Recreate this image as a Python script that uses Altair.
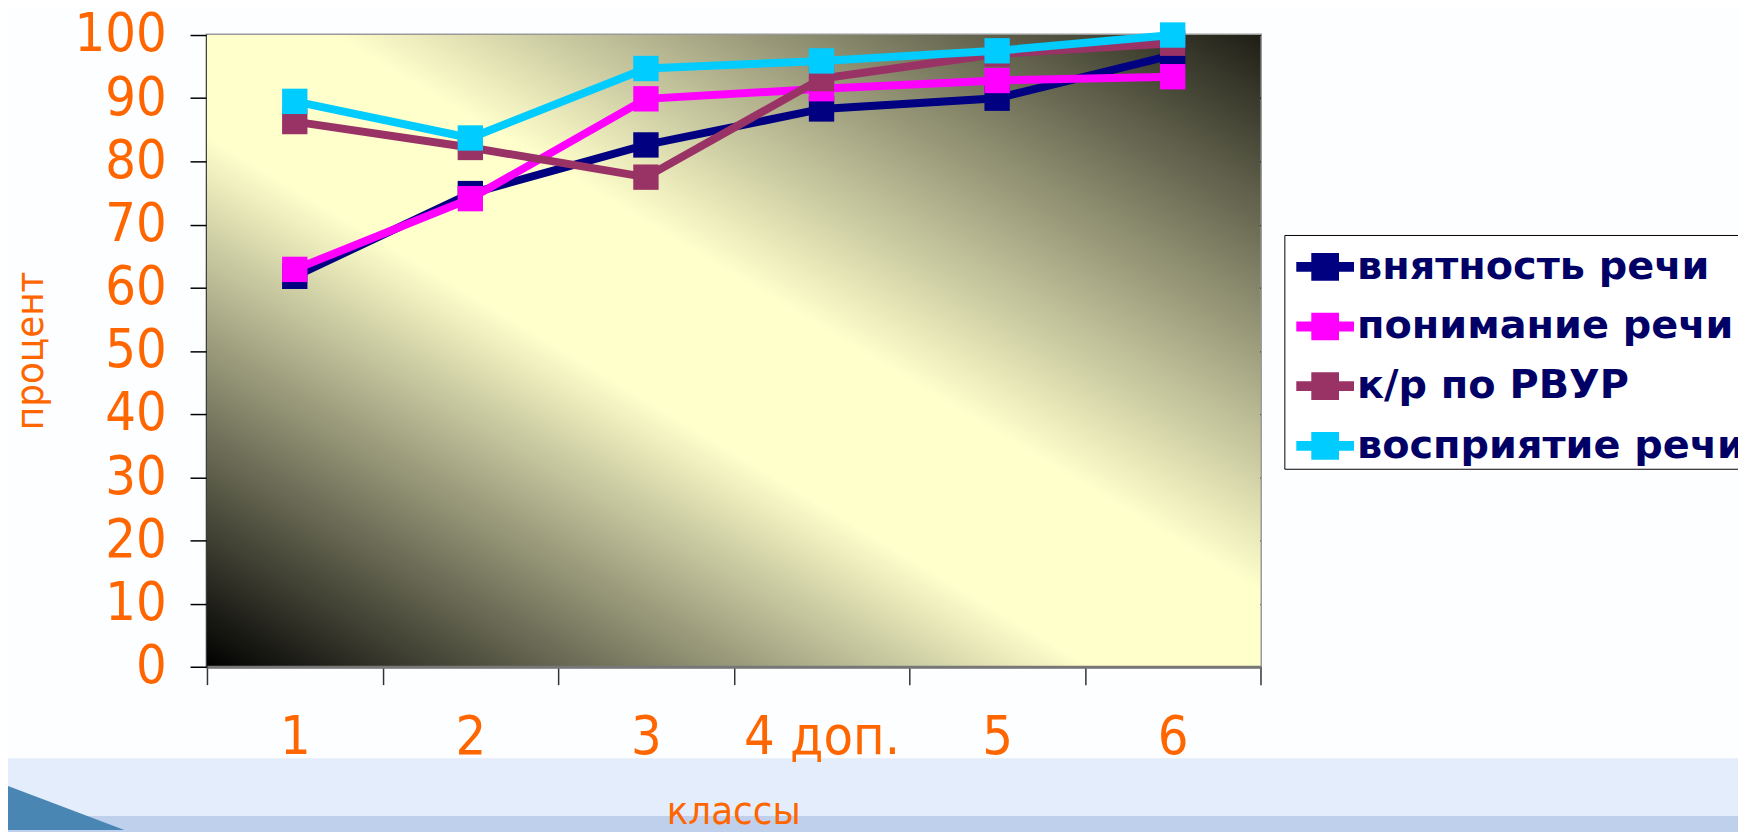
import altair as alt
import pandas as pd

categories = ["1", "2", "3", "4 доп.", "5", "6"]
series_names = ["внятность речи", "понимание речи", "к/р по РВУР", "восприятие речи"]
vnyatnost = [61.8, 74.9, 82.6, 88.3, 90.0, 96.8]
ponimanie = [62.9, 74.1, 89.9, 91.5, 92.8, 93.4]
kr_rvur = [86.3, 82.2, 77.5, 93.1, 97.0, 98.7]
vospriyatie = [89.5, 83.7, 94.7, 95.9, 97.5, 100.0]
colors = ["#000080", "#FF00FF", "#993366", "#00CCFF"]
y_ticks = list(range(0, 101, 10))

rows = []
for name, vals in zip(series_names, [vnyatnost, ponimanie, kr_rvur, vospriyatie]):
    for c, v in zip(categories, vals):
        rows.append({"klass": c, "series": name, "value": v})
df = pd.DataFrame(rows)

FONT = "DejaVu Sans Condensed, Liberation Sans Narrow, DejaVu Sans"
ORANGE = "#FF6600"
W, H = 1059, 635

x_enc = alt.X(
    "klass:N",
    sort=categories,
    bandPosition=0.5,
    scale=alt.Scale(type="band", paddingInner=0, paddingOuter=0),
    axis=alt.Axis(
        title="классы",
        zindex=1,
        labelAngle=0,
        labelFont=FONT,
        labelFontSize=54,
        labelColor=ORANGE,
        labelPadding=26,
        labelBaseline="top",
        tickBand="extent",
        tickSize=18,
        tickColor="#333333",
        tickWidth=1.5,
        domainColor="#777777",
        domainWidth=3,
        grid=False,
        titleFont=FONT,
        titleFontSize=40,
        titleFontWeight="normal",
        titleColor=ORANGE,
        titleX=529,
        titleY=126,
        titleBaseline="top",
        titleAlign="center",
    ),
)

y_enc = alt.Y(
    "value:Q",
    scale=alt.Scale(domain=[0, 100], nice=False, zero=True),
    axis=alt.Axis(
        title="процент",
        values=y_ticks,
        labelFont=FONT,
        labelFontSize=54,
        labelColor=ORANGE,
        labelPadding=24,
        tickSize=17,
        tickColor="#000000",
        tickWidth=1.5,
        domainColor="#222222",
        domainWidth=2.5,
        grid=True,
        gridColor="#000000",
        gridWidth=1.2,
        titleFont=FONT,
        titleFontSize=40,
        titleFontWeight="normal",
        titleColor=ORANGE,
        titleAngle=270,
        titleX=-177,
        titleY=317,
        titleAlign="center",
        titleBaseline="middle",
    ),
)

legend_symbol = "M-1,-0.17L1,-0.17L1,0.17L-1,0.17Z M-0.48,-0.48L0.48,-0.48L0.48,0.48L-0.48,0.48Z"

legend = alt.Legend(
    title=None,
    orient="none",
    legendX=1083,
    legendY=201,
    symbolType=legend_symbol,
    symbolSize=3364,
    symbolStrokeWidth=0,
    symbolOpacity=1,
    labelFont="DejaVu Sans",
    labelFontWeight="bold",
    labelFontSize=40,
    labelColor="#000066",
    labelLimit=1000,
    labelOffset=3,
    symbolOffset=9,
    padding=3,
    rowPadding=11,
    strokeColor="#000000",
    fillColor="#FFFFFF",
)

gradient = {
    "gradient": "linear",
    "x1": 0,
    "y1": 1,
    "x2": 1,
    "y2": 0,
    "stops": [
        {"offset": 0, "color": "#000000"},
        {"offset": 0.42, "color": "#FFFFCC"},
        {"offset": 0.56, "color": "#FFFFCC"},
        {"offset": 1, "color": "#1E1E16"},
    ],
}

one = alt.Data(values=[{"a": 1}])

# slide decoration below the chart
band_light = (
    alt.Chart(one)
    .mark_rect(color="#E3EDFB")
    .encode(x=alt.value(-220), x2=alt.value(1560), y=alt.value(727), y2=alt.value(785))
)
band_dark = (
    alt.Chart(one)
    .mark_rect(color="#BFD0EC")
    .encode(x=alt.value(-220), x2=alt.value(1560), y=alt.value(785), y2=alt.value(830))
)
triangle = (
    alt.Chart(one)
    .mark_point(
        shape="M0,0 L2.66,1 L0,1 Z",
        filled=True,
        color="#4A86B4",
        opacity=1,
        size=8836,
    )
    .encode(x=alt.value(-208), y=alt.value(752))
)

bg = (
    alt.Chart(one)
    .mark_rect(fill=gradient)
    .encode(x=alt.value(0), x2=alt.value(W), y=alt.value(0), y2=alt.value(H))
)

layers = [band_light, band_dark, triangle, bg]
for i, name in enumerate(series_names):
    base = alt.Chart(df).transform_filter(alt.datum.series == name)
    line = base.mark_line(color=colors[i], strokeWidth=8).encode(x=x_enc, y=y_enc)
    pts = base.mark_point(shape="square", filled=True, size=650, opacity=1).encode(
        x=x_enc,
        y=y_enc,
        color=alt.Color(
            "series:N",
            scale=alt.Scale(domain=series_names, range=colors),
            legend=legend,
        ),
    )
    layers += [line, pts]

chart = (
    alt.layer(*layers)
    .properties(
        width=W,
        height=H,
        padding={"left": 200, "top": 25, "right": 480, "bottom": 172},
        autosize=alt.AutoSizeParams(type="none"),
        background="#FDFEFF",
    )
    .configure_view(stroke="#999999", strokeWidth=3)
)

chart.save("out.html", embed_options={"renderer": "svg", "actions": False})
